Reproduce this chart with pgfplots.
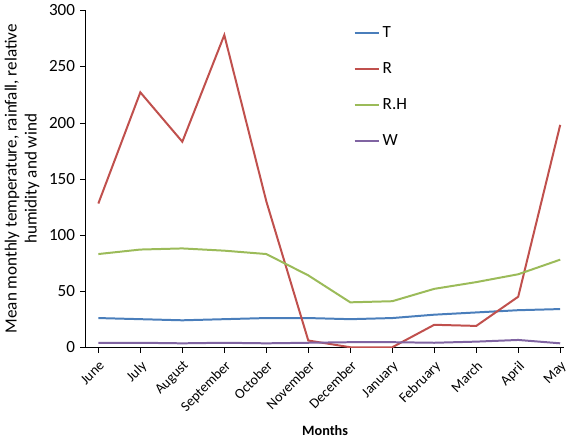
\documentclass[border=0pt]{standalone}
\usepackage{pgfplots}
\pgfplotsset{compat=1.18}
\usepackage{fontspec}
\setmainfont{Carlito}
\definecolor{cT}{RGB}{74,126,187}
\definecolor{cR}{RGB}{192,80,77}
\definecolor{cH}{RGB}{155,187,89}
\definecolor{cW}{RGB}{128,100,162}
\begin{document}
\begin{tikzpicture}
\begin{axis}[
  width=13.4cm, height=9.9cm,
  axis lines*=left, ymin=0, ymax=300, xmin=-0.3, xmax=11.1,
  ytick={0,50,...,300}, xtick={0,...,11},
  xticklabels={June,July,August,September,October,November,December,January,February,March,April,May},
  xticklabel style={rotate=45,anchor=north east,font=\normalsize},
  yticklabel style={font=\large},
  tick align=outside, tick style={black}, major tick length=4pt,
  /pgf/number format/assume math mode=true,
  xlabel={\textbf{Months}},
  ylabel={Mean monthly temperature, rainfall, relative\\humidity and wind},
  ylabel style={align=center, font=\large},
  legend style={draw=none, at={(0.55,0.97)}, anchor=north west, font=\large, row sep=12pt},
  legend cell align=left,
  every axis plot/.append style={line width=1.4pt, no marks},
]
\addplot[cT] coordinates {(0,26)(1,25)(2,24)(3,25)(4,26)(5,26)(6,25)(7,26)(8,29)(9,31)(10,33)(11,34)};
\addplot[cR] coordinates {(0,128)(1,227)(2,183)(3,278)(4,130)(5,6)(6,0)(7,0)(8,20)(9,19)(10,45)(11,198)};
\addplot[cH] coordinates {(0,83)(1,87)(2,88)(3,86)(4,83)(5,64)(6,40)(7,41)(8,52)(9,58)(10,65)(11,78)};
\addplot[cW] coordinates {(0,4)(1,4)(2,3.5)(3,4)(4,3.5)(5,4)(6,4.5)(7,4.5)(8,4)(9,5)(10,6.5)(11,3.5)};
\legend{T,R,R.H,W}
\end{axis}
\end{tikzpicture}
\end{document}
